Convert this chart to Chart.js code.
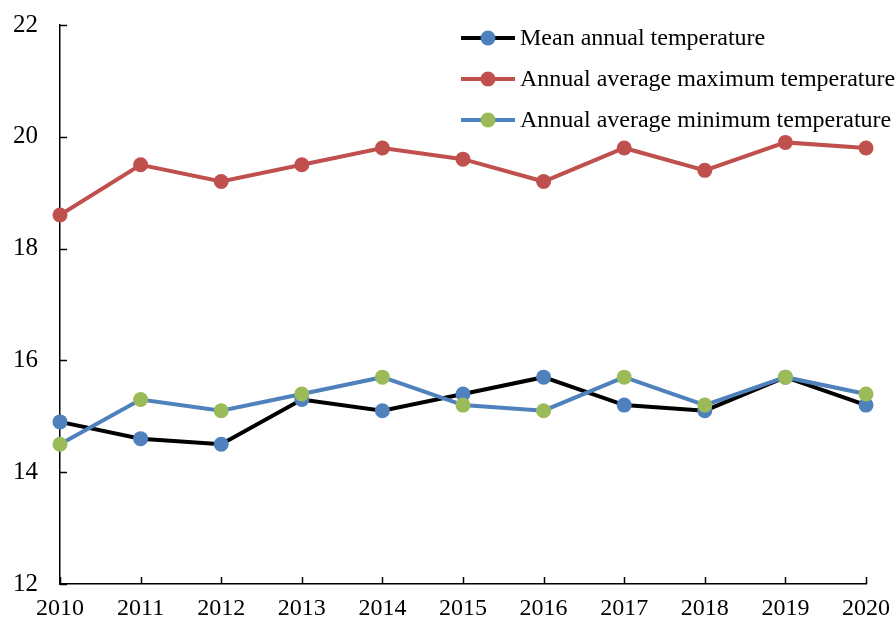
<!DOCTYPE html>
<html>
<head>
<meta charset="utf-8">
<script src="https://cdn.jsdelivr.net/npm/chart.js@4"></script>
<style>
  html, body { margin: 0; padding: 0; background: #fff; }
  #wrap { width: 895px; height: 620px; position: relative; }
</style>
</head>
<body>
<div id="wrap"><canvas id="tempChart"></canvas></div>
<script>
// ---- Data ----
const years = ['2010', '2011', '2012', '2013', '2014', '2015', '2016', '2017', '2018', '2019', '2020'];
const meanTemp = [14.9, 14.6, 14.5, 15.3, 15.1, 15.4, 15.7, 15.2, 15.1, 15.7, 15.2];
const maxTemp = [18.6, 19.5, 19.2, 19.5, 19.8, 19.6, 19.2, 19.8, 19.4, 19.9, 19.8];
const minTemp = [14.5, 15.3, 15.1, 15.4, 15.7, 15.2, 15.1, 15.7, 15.2, 15.7, 15.4];
const yTicks = [12, 14, 16, 18, 20, 22];

const FONT = '"Liberation Serif", "Times New Roman", serif';

// ---- Inward tick marks, like the original ----
const innerTicks = {
  id: 'innerTicks',
  afterDatasetsDraw(chart) {
    const { ctx, scales: { x, y }, chartArea } = chart;
    ctx.save();
    ctx.strokeStyle = '#000';
    ctx.lineWidth = 1.5;
    ctx.beginPath();
    yTicks.forEach((v) => {
      const py = Math.round(y.getPixelForValue(v)) + 0.5;
      ctx.moveTo(chartArea.left, py);
      ctx.lineTo(chartArea.left + 7, py);
    });
    years.forEach((_, i) => {
      const px = Math.round(x.getPixelForValue(i)) + 0.5;
      ctx.moveTo(px, chartArea.bottom);
      ctx.lineTo(px, chartArea.bottom - 7);
    });
    ctx.stroke();
    ctx.restore();
  },
};

// ---- Legend drawn in the top-right corner ----
const cornerLegend = {
  id: 'cornerLegend',
  afterDraw(chart) {
    const { ctx } = chart;
    const rows = [
      { label: 'Mean annual temperature', line: '#000000', dot: '#4F81BD' },
      { label: 'Annual average maximum temperature', line: '#C0504D', dot: '#C0504D' },
      { label: 'Annual average minimum temperature', line: '#4F81BD', dot: '#9BBB59' },
    ];
    ctx.save();
    rows.forEach((r, i) => {
      const cy = 38 + i * 41;
      ctx.strokeStyle = r.line;
      ctx.lineWidth = 4;
      ctx.beginPath();
      ctx.moveTo(461, cy);
      ctx.lineTo(515, cy);
      ctx.stroke();
      ctx.fillStyle = r.dot;
      ctx.beginPath();
      ctx.arc(488, cy, 7.5, 0, Math.PI * 2);
      ctx.fill();
      ctx.fillStyle = '#000';
      ctx.font = '24px ' + FONT;
      ctx.textBaseline = 'middle';
      ctx.fillText(r.label, 520, cy + 1);
    });
    ctx.restore();
  },
};

function makeSeries(label, data, lineColor, dotColor, order) {
  return {
    label,
    data,
    borderColor: lineColor,
    backgroundColor: dotColor,
    pointBackgroundColor: dotColor,
    pointBorderColor: dotColor,
    borderWidth: 4,
    pointRadius: 7.5,
    pointBorderWidth: 0,
    tension: 0,
    fill: false,
    clip: false,
    order,
  };
}

new Chart(document.getElementById('tempChart').getContext('2d'), {
  type: 'line',
  data: {
    labels: years,
    datasets: [
      makeSeries('Mean annual temperature', meanTemp, '#000000', '#4F81BD', 2),
      makeSeries('Annual average maximum temperature', maxTemp, '#C0504D', '#C0504D', 1),
      makeSeries('Annual average minimum temperature', minTemp, '#4F81BD', '#9BBB59', 0),
    ],
  },
  options: {
    responsive: true,
    maintainAspectRatio: false,
    animation: false,
    layout: { autoPadding: false, padding: { top: 25, right: 29, left: 0, bottom: 0 } },
    plugins: {
      legend: { display: false },
      tooltip: { enabled: false },
    },
    scales: {
      x: {
        offset: false,
        grid: { display: false, drawTicks: false },
        border: { display: true, color: '#000', width: 1.5 },
        ticks: {
          color: '#000',
          font: { family: FONT, size: 24 },
          padding: 10,
          maxRotation: 0,
          autoSkip: false,
        },
        afterFit(scale) {
          scale.height = 36;
          scale.paddingLeft = 0;
          scale.paddingRight = 0;
        },
      },
      y: {
        min: 12,
        max: 22,
        grid: { display: false, drawTicks: false },
        border: { display: true, color: '#000', width: 1.5 },
        ticks: {
          stepSize: 2,
          color: '#000',
          font: { family: FONT, size: 25 },
          padding: 22,
        },
        afterFit(scale) {
          scale.width = 60;
          scale.paddingTop = 0;
          scale.paddingBottom = 0;
        },
      },
    },
  },
  plugins: [innerTicks, cornerLegend],
});
</script>
</body>
</html>
